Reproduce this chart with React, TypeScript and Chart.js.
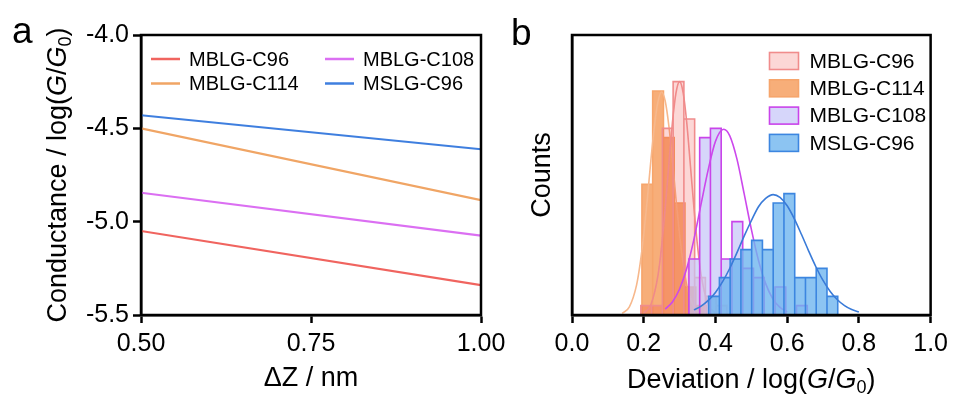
import React, { useEffect, useRef } from "react";
import { Chart, registerables } from "chart.js";

Chart.register(...registerables);

const FONT = "'Liberation Sans', Arial, Helvetica, sans-serif";

// ---------- Panel a: conductance fits against electrode displacement ----------
const seriesNames = ["MBLG-C96", "MBLG-C114", "MBLG-C108", "MSLG-C96"];
const dzValues = [0.5, 1.0];
const fitC96 = [-5.05, -5.34];
const fitC114 = [-4.5, -4.885];
const fitC108 = [-4.845, -5.075];
const fitS96 = [-4.43, -4.612];
const dzTicks = [0.5, 0.75, 1.0];
const conductanceTicks = [-5.5, -5.0, -4.5, -4.0];

// ---------- Panel b: deviation histograms with Gaussian fits ----------
const deviationTicks = [0, 0.2, 0.4, 0.6, 0.8, 1.0];
const binWidth = 0.03;

const binsC96 = [0.207, 0.237, 0.267, 0.297, 0.327, 0.357, 0.387, 0.417];
const countsC96 = [1, 1, 20, 25, 21, 4, 2, 1];
const binsC114 = [0.21, 0.24, 0.27, 0.3, 0.33, 0.36];
const countsC114 = [14, 24, 19, 12, 3, 1];
const binsC108 = [0.341, 0.371, 0.401, 0.431, 0.461, 0.491, 0.521, 0.551, 0.581, 0.611, 0.641];
const countsC108 = [6, 19, 20, 6, 10, 5, 4, 0, 3, 0, 1];
const binsS96 = [0.396, 0.426, 0.456, 0.486, 0.516, 0.546, 0.576, 0.606, 0.636, 0.666, 0.696, 0.726];
const countsS96 = [2, 4, 6, 7, 8, 7, 12, 13, 4, 4, 5, 2];

const curveC96X = [0.2, 0.22, 0.24, 0.25, 0.26, 0.27, 0.28, 0.29, 0.3, 0.31, 0.32, 0.33, 0.34, 0.35, 0.36, 0.38, 0.4];
const curveC96Y = [0.19, 1.1, 4.3, 7.4, 11.5, 16.1, 20.6, 23.8, 25, 23.8, 20.6, 16.1, 11.5, 7.4, 4.3, 1.1, 0.19];
const curveC114X = [0.14, 0.16, 0.18, 0.19, 0.2, 0.21, 0.22, 0.23, 0.24, 0.25, 0.26, 0.27, 0.28, 0.29, 0.3, 0.31, 0.32, 0.34, 0.36];
const curveC114Y = [0.17, 0.87, 3.2, 5.5, 8.6, 12.4, 16.6, 20.3, 22.9, 23.9, 22.9, 20.3, 16.6, 12.4, 8.6, 5.5, 3.2, 0.87, 0.17];
const curveC108X = [0.26, 0.28, 0.3, 0.32, 0.34, 0.36, 0.38, 0.4, 0.423, 0.44, 0.46, 0.48, 0.5, 0.52, 0.54, 0.56, 0.58, 0.6];
const curveC108Y = [0.63, 1.39, 2.78, 5.0, 8.1, 11.9, 15.6, 18.6, 19.9, 19.2, 16.7, 13.0, 9.2, 5.85, 3.36, 1.73, 0.81, 0.34];
const curveS96X = [0.34, 0.36, 0.38, 0.4, 0.42, 0.44, 0.46, 0.48, 0.5, 0.52, 0.54, 0.561, 0.58, 0.6, 0.62, 0.64, 0.66, 0.68, 0.7, 0.72, 0.74, 0.76, 0.78, 0.8];
const curveS96Y = [0.55, 0.95, 1.56, 2.42, 3.57, 5.01, 6.68, 8.45, 10.1, 11.6, 12.5, 12.9, 12.6, 11.7, 10.3, 8.62, 6.85, 5.17, 3.7, 2.52, 1.63, 1.0, 0.58, 0.32];

const lineColors = ["#f0645f", "#f0a565", "#db6ff2", "#3f7fdf"];
// translucent fills: the red-tinted C96 bars read pale pink on white and deep orange over C114
const histFill = ["rgba(237,20,10,0.17)", "rgba(246,160,98,0.85)", "rgba(196,196,248,0.7)", "rgba(111,181,239,0.8)"];
const histEdge = ["#f08c8c", "#f6a56c", "#c944ea", "#3c86e0"];
const curveColors = ["#f08a8a", "#f7b88c", "#cc48ec", "#3a7bd8"];

const pts = (xs: number[], ys: number[]) => xs.map((x, i) => ({ x, y: ys[i] }));

// outline of a histogram: every bin becomes left edge, top, right edge
const histOutline = (centers: number[], counts: number[]) =>
  centers.flatMap((c, i) => [
    { x: c - binWidth / 2, y: 0 },
    { x: c - binWidth / 2, y: counts[i] },
    { x: c + binWidth / 2, y: counts[i] },
    { x: c + binWidth / 2, y: 0 },
  ]);

type Seg = { t: string; it?: boolean; sub?: boolean };

function drawRich(ctx: CanvasRenderingContext2D, segs: Seg[], x: number, y: number, size: number) {
  const fontOf = (s: Seg) => `${s.it ? "italic " : ""}${s.sub ? Math.round(size * 0.66) : size}px ${FONT}`;
  const widths = segs.map((s) => {
    ctx.font = fontOf(s);
    return ctx.measureText(s.t).width;
  });
  const total = widths.reduce((a, b) => a + b, 0);
  let cx = x - total / 2;
  ctx.textAlign = "left";
  ctx.textBaseline = "alphabetic";
  segs.forEach((s, i) => {
    ctx.font = fontOf(s);
    ctx.fillText(s.t, cx, s.sub ? y + size * 0.2 : y);
    cx += widths[i];
  });
}

const logG: Seg[] = [{ t: "log(" }, { t: "G", it: true }, { t: "/" }, { t: "G", it: true }, { t: "0", sub: true }, { t: ")" }];

const frame = {
  id: "frame",
  afterDraw(chart: any) {
    const { ctx, chartArea: a } = chart;
    ctx.save();
    ctx.strokeStyle = "#000";
    ctx.lineWidth = 2.5;
    ctx.strokeRect(a.left, a.top, a.right - a.left, a.bottom - a.top);
    ctx.restore();
  },
};

const tickFont = { family: FONT, size: 25 };

function axisX(min: number, max: number, ticks: number[], digits: number) {
  return {
    type: "linear",
    min,
    max,
    offset: false,
    afterBuildTicks: (s: any) => {
      s.ticks = ticks.map((v) => ({ value: v }));
    },
    ticks: {
      callback: (v: any) => Number(v).toFixed(digits),
      font: tickFont,
      color: "#000",
      padding: 6,
      maxRotation: 0,
      autoSkip: false,
    },
    grid: { offset: false, drawOnChartArea: false, drawTicks: true, tickLength: 8, tickWidth: 2.5, color: "#000" },
    border: { display: true, color: "#000", width: 2.5 },
    afterFit: (s: any) => {
      s.height = 79;
    },
  };
}

function buildPanelA(canvas: HTMLCanvasElement) {
  const fits = [fitC96, fitC114, fitC108, fitS96];
  const legendPos = [
    [151, 59],
    [151, 83.5],
    [325, 59],
    [325, 83.5],
  ];
  const texts = {
    id: "textsA",
    afterDraw(chart: any) {
      const { ctx, chartArea: a } = chart;
      ctx.save();
      ctx.fillStyle = "#000";
      ctx.font = `37px ${FONT}`;
      ctx.textAlign = "left";
      ctx.textBaseline = "alphabetic";
      ctx.fillText("a", 12, 43);

      ctx.save();
      ctx.translate(66, (a.top + a.bottom) / 2);
      ctx.rotate(-Math.PI / 2);
      drawRich(ctx, [{ t: "Conductance / " }, ...logG], 0, 0, 27);
      ctx.restore();

      drawRich(ctx, [{ t: "ΔZ / nm" }], (a.left + a.right) / 2, 386, 27);

      chart.data.datasets.forEach((ds: any, i: number) => {
        const [lx, ly] = legendPos[i];
        ctx.strokeStyle = ds.borderColor;
        ctx.lineWidth = 2.5;
        ctx.beginPath();
        ctx.moveTo(lx, ly);
        ctx.lineTo(lx + 29, ly);
        ctx.stroke();
        ctx.fillStyle = "#000";
        ctx.font = `20px ${FONT}`;
        ctx.textBaseline = "middle";
        ctx.textAlign = "left";
        ctx.fillText(ds.label, lx + 38, ly + 1);
      });
      ctx.restore();
    },
  };

  return new Chart(canvas, {
    type: "line",
    data: {
      datasets: fits.map((f, i) => ({
        label: seriesNames[i],
        data: pts(dzValues, f),
        borderColor: lineColors[i],
        borderWidth: 2.2,
        pointRadius: 0,
        fill: false,
      })),
    },
    options: {
      animation: false,
      responsive: false,
      maintainAspectRatio: false,
      layout: { padding: { left: 0, top: 35, right: 39, bottom: 0 } },
      plugins: { legend: { display: false }, tooltip: { enabled: false } },
      scales: {
        x: axisX(0.5, 1.0, dzTicks, 2),
        y: {
          type: "linear",
          min: -5.5,
          max: -4.0,
          afterBuildTicks: (s: any) => {
            s.ticks = conductanceTicks.map((v) => ({ value: v }));
          },
          ticks: {
            callback: (v: any) => Number(v).toFixed(1),
            font: tickFont,
            color: "#000",
            padding: 4,
            autoSkip: false,
          },
          grid: { drawOnChartArea: false, drawTicks: true, tickLength: 8, tickWidth: 2.5, color: "#000" },
          border: { display: true, color: "#000", width: 2.5 },
          afterFit: (s: any) => {
            s.width = 141;
          },
        },
      },
    } as any,
    plugins: [frame, texts],
  });
}

function buildPanelB(canvas: HTMLCanvasElement) {
  const bins = [binsC96, binsC114, binsC108, binsS96];
  const counts = [countsC96, countsC114, countsC108, countsS96];
  const curvesX = [curveC96X, curveC114X, curveC108X, curveS96X];
  const curvesY = [curveC96Y, curveC114Y, curveC108Y, curveS96Y];
  // stacking: C114 lowest, then C96, C108, S96 on top; each curve sits above its own bars
  const layer = [2, 1, 3, 4];

  const datasets: any[] = [];
  seriesNames.forEach((name, i) => {
    datasets.push({
      label: name,
      data: histOutline(bins[i], counts[i]),
      backgroundColor: histFill[i],
      borderColor: histEdge[i],
      borderWidth: 1.6,
      borderJoinStyle: "miter",
      tension: 0,
      pointRadius: 0,
      fill: "origin",
      order: 20 - layer[i] * 2,
    });
    datasets.push({
      label: name + " fit",
      data: pts(curvesX[i], curvesY[i]),
      borderColor: curveColors[i],
      borderWidth: 1.6,
      pointRadius: 0,
      fill: false,
      cubicInterpolationMode: "monotone",
      order: 19 - layer[i] * 2,
    });
  });

  const texts = {
    id: "textsB",
    afterDraw(chart: any) {
      const { ctx, chartArea: a } = chart;
      ctx.save();
      ctx.fillStyle = "#000";
      ctx.font = `37px ${FONT}`;
      ctx.textAlign = "left";
      ctx.textBaseline = "alphabetic";
      ctx.fillText("b", 11, 45);

      ctx.save();
      ctx.translate(50, (a.top + a.bottom) / 2);
      ctx.rotate(-Math.PI / 2);
      drawRich(ctx, [{ t: "Counts" }], 0, 0, 27);
      ctx.restore();

      drawRich(ctx, [{ t: "Deviation / " }, ...logG], (a.left + a.right) / 2, 388, 27);

      seriesNames.forEach((name, i) => {
        const bx = 269.5;
        const cy = 61 + i * 27.3;
        ctx.fillStyle = histFill[i];
        ctx.fillRect(bx, cy - 8.5, 29, 17);
        ctx.strokeStyle = histEdge[i];
        ctx.lineWidth = 1.6;
        ctx.strokeRect(bx, cy - 8.5, 29, 17);
        ctx.fillStyle = "#000";
        ctx.font = `21px ${FONT}`;
        ctx.textBaseline = "middle";
        ctx.textAlign = "left";
        ctx.fillText(name, 309.5, cy + 1);
      });
      ctx.restore();
    },
  };

  return new Chart(canvas, {
    type: "line",
    data: { datasets },
    options: {
      animation: false,
      responsive: false,
      maintainAspectRatio: false,
      layout: { padding: { left: 0, top: 35, right: 20, bottom: 0 } },
      plugins: { legend: { display: false }, tooltip: { enabled: false } },
      scales: {
        x: axisX(0, 1, deviationTicks, 1),
        y: {
          type: "linear",
          min: 0,
          max: 30,
          ticks: { display: false },
          grid: { display: false },
          border: { display: true, color: "#000", width: 2.5 },
          afterFit: (s: any) => {
            s.width = 72;
          },
        },
      },
    } as any,
    plugins: [frame, texts],
  });
}

export default function App() {
  const refA = useRef<HTMLCanvasElement>(null);
  const refB = useRef<HTMLCanvasElement>(null);

  useEffect(() => {
    const a = buildPanelA(refA.current!);
    const b = buildPanelB(refB.current!);
    return () => {
      a.destroy();
      b.destroy();
    };
  }, []);

  return (
    <div style={{ position: "absolute", left: 0, top: 0, width: 954, height: 394, background: "#fff", overflow: "hidden" }}>
      <canvas ref={refA} width={520} height={394} style={{ position: "absolute", left: 0, top: 0, width: 520, height: 394 }} />
      <canvas ref={refB} width={454} height={394} style={{ position: "absolute", left: 500, top: 0, width: 454, height: 394 }} />
    </div>
  );
}
